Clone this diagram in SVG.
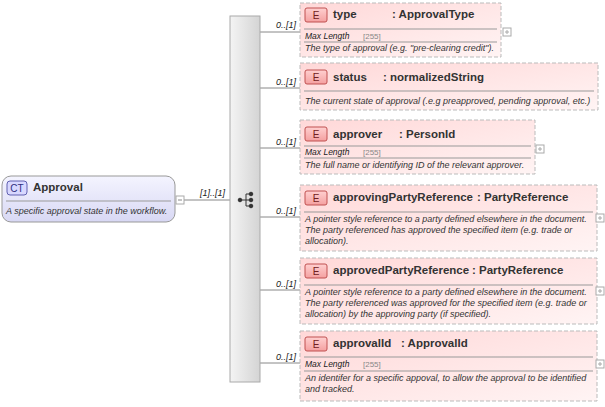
<svg xmlns="http://www.w3.org/2000/svg" width="605" height="407" viewBox="0 0 605 407">
<defs>
<linearGradient id="ct" x1="0" y1="0" x2="0" y2="1"><stop offset="0" stop-color="#f4f4ff"/><stop offset="1" stop-color="#d8d8f4"/></linearGradient>
<linearGradient id="el" x1="0" y1="0" x2="1" y2="1"><stop offset="0" stop-color="#ffd8d8"/><stop offset="1" stop-color="#fff4f4"/></linearGradient>
<linearGradient id="seq" x1="0" y1="0" x2="1" y2="0"><stop offset="0" stop-color="#f4f4f4"/><stop offset="1" stop-color="#d4d4d4"/></linearGradient>
<linearGradient id="badge" x1="0" y1="0" x2="0" y2="1"><stop offset="0" stop-color="#ffd0d0"/><stop offset="1" stop-color="#f4a0a0"/></linearGradient>
</defs>
<style>
text{font-family:"Liberation Sans",Arial,sans-serif;fill:#222}
.t{font-size:11.5px;font-weight:bold;fill:#333}
.d{font-size:9px;font-style:italic;fill:#333}
.m{font-size:8.5px;font-style:italic}
.mv{font-size:8px;fill:#888}
.c{font-size:9px;font-style:italic}
.box{fill:url(#el);stroke:#bbb;stroke-dasharray:4,2}
.sep{stroke:#999;stroke-width:1}
.bd{fill:url(#badge);stroke:#c05050}
.bt{font-size:10px;fill:#702020;text-anchor:middle}
.ex{fill:#fff;stroke:#aaa}
.ln{stroke:#888;fill:none}
</style>
<g id="connectors">
<line class="ln" x1="184" y1="200" x2="230" y2="200"/>
<text class="c" x="200" y="196">[1]..[1]</text>
<line class="ln" x1="260" y1="32" x2="300" y2="32"/><text class="c" x="276" y="28">0..[1]</text>
<line class="ln" x1="260" y1="88" x2="300" y2="88"/><text class="c" x="276" y="85">0..[1]</text>
<line class="ln" x1="260" y1="148" x2="300" y2="148"/><text class="c" x="276" y="145">0..[1]</text>
<line class="ln" x1="260" y1="217" x2="300" y2="217"/><text class="c" x="276" y="214">0..[1]</text>
<line class="ln" x1="260" y1="290" x2="300" y2="290"/><text class="c" x="276" y="287">0..[1]</text>
<line class="ln" x1="260" y1="363" x2="300" y2="363"/><text class="c" x="276" y="360">0..[1]</text>
</g>
<g id="Approval">
<rect x="2" y="176" width="173" height="46" rx="9" fill="url(#ct)" stroke="#999"/>
<rect x="7" y="181" width="20" height="14" rx="3" fill="#d8d8ff" stroke="#6060b0"/>
<text x="17" y="192" text-anchor="middle" style="font-size:10px;fill:#303080">CT</text>
<text class="t" x="33" y="191">Approval</text>
<line class="sep" x1="6" y1="201" x2="171" y2="201"/>
<text class="d" x="6" y="214">A specific approval state in the workflow.</text>
<rect class="ex" x="176" y="196" width="8" height="8"/><line x1="178" y1="200" x2="182" y2="200" stroke="#888"/>
</g>
<g id="sequence">
<rect x="230" y="16" width="30" height="366" fill="url(#seq)" stroke="#aaa"/>
<g fill="#333" stroke="#333">
<circle cx="240" cy="200" r="1.8"/><line x1="240" y1="200" x2="246" y2="200"/><line x1="246" y1="194" x2="246" y2="206"/>
<line x1="246" y1="194" x2="250" y2="194"/><line x1="246" y1="200" x2="250" y2="200"/><line x1="246" y1="206" x2="250" y2="206"/>
<circle cx="251" cy="194" r="1.8"/><circle cx="251" cy="200" r="1.8"/><circle cx="251" cy="206" r="1.8"/>
</g>
</g>
<g id="type">
<rect class="box" x="300" y="3" width="201" height="54"/>
<rect class="bd" x="305" y="8" width="22" height="14" rx="2"/><text class="bt" x="316" y="19">E</text>
<text class="t" x="333" y="18">type</text><text class="t" x="392" y="18">: ApprovalType</text>
<line class="sep" x1="304" y1="29" x2="497" y2="29"/>
<text class="m" x="305" y="39">Max Length</text><text class="mv" x="363" y="39">[255]</text>
<line class="sep" x1="304" y1="42" x2="497" y2="42"/>
<text class="d" x="305" y="51">The type of approval (e.g. "pre-clearing credit").</text>
<rect class="ex" x="503" y="28" width="8" height="8"/><path d="M505 32h4M507 30v4" stroke="#aaa"/>
</g>
<g id="status">
<rect class="box" x="300" y="63" width="298" height="47"/>
<rect class="bd" x="305" y="70" width="22" height="14" rx="2"/><text class="bt" x="316" y="81">E</text>
<text class="t" x="333" y="81">status</text><text class="t" x="383" y="81">: normalizedString</text>
<line class="sep" x1="304" y1="91" x2="594" y2="91"/>
<text class="d" x="305" y="104">The current state of approval (.e.g preapproved, pending approval, etc.)</text>
</g>
<g id="approver">
<rect class="box" x="300" y="120" width="235" height="54"/>
<rect class="bd" x="305" y="127" width="22" height="14" rx="2"/><text class="bt" x="316" y="138">E</text>
<text class="t" x="333" y="138">approver</text><text class="t" x="399" y="138">: PersonId</text>
<line class="sep" x1="304" y1="146" x2="531" y2="146"/>
<text class="m" x="305" y="155">Max Length</text><text class="mv" x="363" y="155">[255]</text>
<line class="sep" x1="304" y1="158" x2="531" y2="158"/>
<text class="d" x="305" y="168">The full name or identifying ID of the relevant approver.</text>
<rect class="ex" x="536" y="145" width="8" height="8"/><path d="M538 149h4M540 147v4" stroke="#aaa"/>
</g>
<g id="approvingPartyReference">
<rect class="box" x="300" y="185" width="297" height="66"/>
<rect class="bd" x="305" y="191" width="22" height="14" rx="2"/><text class="bt" x="316" y="202">E</text>
<text class="t" x="333" y="201">approvingPartyReference</text><text class="t" x="477" y="201">: PartyReference</text>
<line class="sep" x1="304" y1="212" x2="593" y2="212"/>
<text class="d" x="305" y="222">A pointer style reference to a party defined elsewhere in the document.</text>
<text class="d" x="305" y="233">The party referenced has approved the specified item (e.g. trade or</text>
<text class="d" x="305" y="244">allocation).</text>
<rect class="ex" x="596" y="214" width="8" height="8"/><path d="M598 218h4M600 216v4" stroke="#aaa"/>
</g>
<g id="approvedPartyReference">
<rect class="box" x="300" y="258" width="297" height="66"/>
<rect class="bd" x="305" y="264" width="22" height="14" rx="2"/><text class="bt" x="316" y="275">E</text>
<text class="t" x="333" y="274">approvedPartyReference</text><text class="t" x="472" y="274">: PartyReference</text>
<line class="sep" x1="304" y1="285" x2="593" y2="285"/>
<text class="d" x="305" y="295">A pointer style reference to a party defined elsewhere in the document.</text>
<text class="d" x="305" y="306">The party referenced was approved for the specified item (e.g. trade or</text>
<text class="d" x="305" y="317">allocation) by the approving party (if specified).</text>
<rect class="ex" x="596" y="287" width="8" height="8"/><path d="M598 291h4M600 289v4" stroke="#aaa"/>
</g>
<g id="approvalId">
<rect class="box" x="300" y="331" width="297" height="70"/>
<rect class="bd" x="305" y="337" width="22" height="14" rx="2"/><text class="bt" x="316" y="348">E</text>
<text class="t" x="333" y="347">approvalId</text><text class="t" x="401" y="347">: ApprovalId</text>
<line class="sep" x1="304" y1="357" x2="593" y2="357"/>
<text class="m" x="305" y="367">Max Length</text><text class="mv" x="363" y="367">[255]</text>
<line class="sep" x1="304" y1="371" x2="593" y2="371"/>
<text class="d" x="305" y="381">An identifer for a specific appoval, to allow the approval to be identified</text>
<text class="d" x="305" y="392">and tracked.</text>
<rect class="ex" x="596" y="360" width="8" height="8"/><path d="M598 364h4M600 362v4" stroke="#aaa"/>
</g>
</svg>
